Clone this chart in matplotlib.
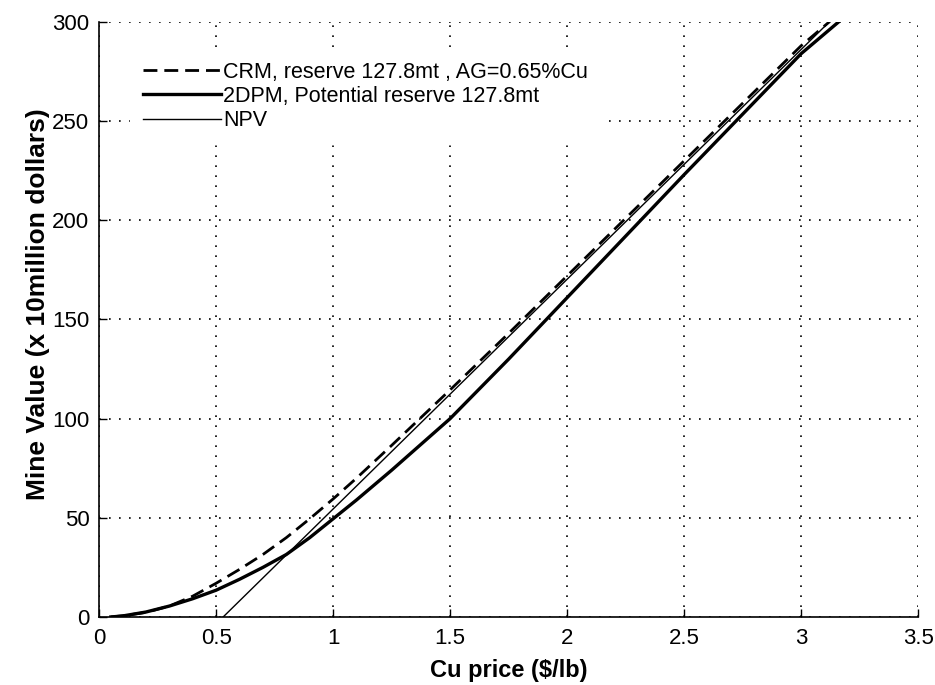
import numpy as np
import matplotlib
matplotlib.use("Agg")
import matplotlib.pyplot as plt

# 読み取った値 (Cu price -> Mine value)
crm_price = [0.05, 0.1, 0.2, 0.3, 0.4, 0.5, 0.6, 0.7, 0.8, 0.9, 1.0, 1.1, 1.25, 1.5, 1.75, 2.0, 2.5, 3.0, 3.12]
crm_value = [0.0, 0.6, 2.3, 5.5, 10.5, 17.0, 24.0, 31.5, 40.0, 49.5, 59.5, 70.0, 86.5, 114.5, 143.0, 172.0, 230.0, 288.0, 300.0]

dpm_price = [0.05, 0.1, 0.2, 0.3, 0.4, 0.5, 0.6, 0.7, 0.8, 0.9, 1.0, 1.1, 1.25, 1.5, 1.75, 2.0, 2.5, 3.0, 3.16]
dpm_value = [0.0, 0.5, 2.5, 5.5, 9.2, 13.5, 19.0, 25.0, 31.5, 40.0, 49.5, 59.0, 74.0, 100.0, 130.0, 161.0, 223.0, 284.0, 300.0]

npv_price = [0.53, 3.12]
npv_value = [0.0, 300.0]

xticks = [0, 0.5, 1, 1.5, 2, 2.5, 3, 3.5]
xticklabels = ["0", "0.5", "1", "1.5", "2", "2.5", "3", "3.5"]
yticks = [0, 50, 100, 150, 200, 250, 300]

labels = ["CRM, reserve 127.8mt , AG=0.65%Cu",
          "2DPM, Potential reserve 127.8mt",
          "NPV"]

plt.rcParams['font.family'] = ['Liberation Sans', 'DejaVu Sans']

fig = plt.figure(figsize=(9.35, 6.85), dpi=100)
ax = fig.add_axes([0.106, 0.0993, 0.876, 0.8687])

ax.plot(crm_price, crm_value, color='black', lw=2.0, dashes=(5, 2.5), label=labels[0])
ax.plot(dpm_price, dpm_value, color='black', lw=2.4, label=labels[1])
ax.plot(npv_price, npv_value, color='black', lw=1.0, label=labels[2])

ax.set_xlim(0, 3.5)
ax.set_ylim(0, 300)
ax.set_xticks(xticks)
ax.set_xticklabels(xticklabels)
ax.set_yticks(yticks)
ax.tick_params(direction='in', length=6, labelsize=16, width=1)
ax.tick_params(axis='x', pad=8)
ax.tick_params(axis='y', pad=7)
ax.grid(True, color='black', linestyle=(0, (1, 5)), lw=1.2)
ax.spines['top'].set_visible(False)
ax.spines['right'].set_visible(False)
for s in ['left', 'bottom']:
    ax.spines[s].set_linewidth(1.2)

ax.set_xlabel("Cu price ($/lb)", fontsize=17, fontweight='bold', labelpad=7)
ax.set_ylabel("Mine Value (x 10million dollars)", fontsize=19, fontweight='bold')
ax.yaxis.set_label_coords(-0.06, 0.525)

leg = ax.legend(loc='upper left', bbox_to_anchor=(0.038, 0.955), frameon=True,
                fancybox=False, facecolor='white', edgecolor='white', framealpha=1,
                fontsize=15.5, handlelength=3.6, handletextpad=0.1, labelspacing=0.15,
                borderaxespad=0, borderpad=0.6)

plt.savefig("out.png", dpi=100)
